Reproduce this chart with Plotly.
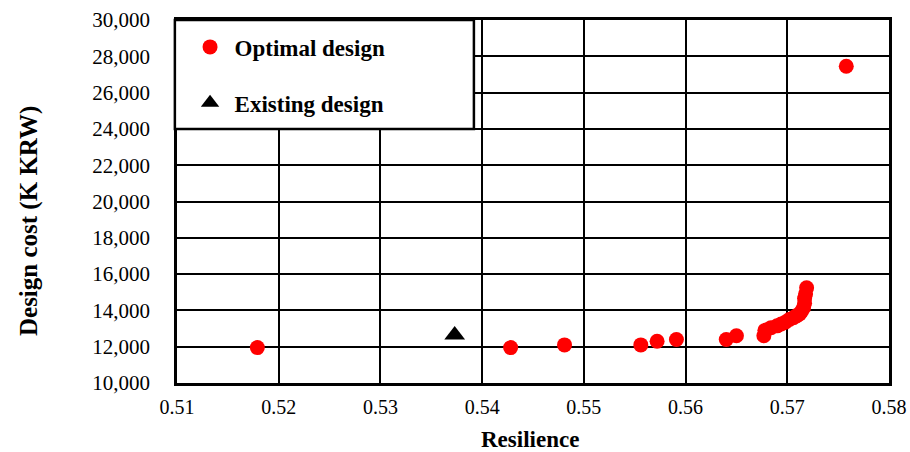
import plotly.graph_objects as go

# Optimal designs (resilience, design cost in K KRW)
opt_resilience = [0.5179, 0.5428, 0.5481, 0.5556, 0.5572, 0.5591, 0.5640, 0.5650,
                  0.5677, 0.5678, 0.5684, 0.5690, 0.5694, 0.5698, 0.5702, 0.5706,
                  0.5709, 0.5712, 0.5714, 0.5716, 0.5717, 0.5717, 0.5718, 0.5719,
                  0.5758]
opt_cost = [11950, 11950, 12100, 12100, 12300, 12400, 12400, 12600,
            12600, 12900, 13050, 13150, 13250, 13350, 13500, 13600,
            13700, 13800, 13950, 14150, 14400, 14650, 14900, 15250,
            27450]

# Existing design
exist_resilience = [0.5373]
exist_cost = [12650]

x_ticks = [0.51, 0.52, 0.53, 0.54, 0.55, 0.56, 0.57, 0.58]
y_ticks = list(range(10000, 30001, 2000))

serif = "Liberation Serif, Times New Roman, serif"

fig = go.Figure()
fig.add_trace(go.Scatter(
    x=opt_resilience, y=opt_cost, mode="markers", name="Optimal design",
    legendgroup="a",
    marker=dict(color="#ff0000", size=15, line=dict(width=0)),
))
fig.add_trace(go.Scatter(
    x=exist_resilience, y=exist_cost, mode="markers", name="Existing design",
    legendgroup="b",
    marker=dict(color="#000000", size=18, symbol="triangle-up", line=dict(width=0)),
))

# legend frame
fig.add_shape(type="rect", xref="paper", yref="paper",
              x0=-0.003, x1=0.417, y0=0.70, y1=1.0,
              fillcolor="white", line=dict(color="black", width=2.5), layer="above")

# axis titles (placed as annotations to match the original's positions)
fig.add_annotation(text="<b>Design cost (K KRW)</b>", xref="paper", yref="paper",
                   x=-0.208, y=0.446, xanchor="center", yanchor="middle",
                   textangle=-90, showarrow=False,
                   font=dict(family=serif, size=25, color="black"))
fig.add_annotation(text="<b>Resilience</b>", xref="paper", yref="paper",
                   x=0.496, y=-0.157, xanchor="center", yanchor="middle",
                   showarrow=False,
                   font=dict(family=serif, size=23, color="black"))

fig.update_layout(
    width=910, height=452,
    margin=dict(l=177, r=21, t=20, b=69),
    paper_bgcolor="white", plot_bgcolor="white",
    font=dict(family=serif, color="black", size=21),
    showlegend=True,
    legend=dict(x=0.012, y=0.985, xanchor="left", yanchor="top",
                bgcolor="rgba(0,0,0,0)", borderwidth=0,
                font=dict(family=serif, size=23, color="black", weight="bold"),
                tracegroupgap=23, itemwidth=39),
    xaxis=dict(range=[0.51, 0.58], tickvals=x_ticks, ticktext=[f"{v:.2f}" for v in x_ticks],
               showgrid=True, gridcolor="black", gridwidth=2, automargin=False,
               showline=True, linecolor="black", linewidth=2.5, mirror=True,
               ticks="", zeroline=False, ticklabelstandoff=4,
               ticklabeloverflow="allow",
               tickfont=dict(family=serif, size=20)),
    yaxis=dict(range=[10000, 30000], tickvals=y_ticks, ticktext=[f"{v:,}" for v in y_ticks],
               showgrid=True, gridcolor="black", gridwidth=2, automargin=False,
               showline=True, linecolor="black", linewidth=2.5, mirror=True,
               ticks="", zeroline=False, ticklabelstandoff=20,
               tickfont=dict(family=serif, size=21)),
)

fig.write_html("out.html",
               config={"displayModeBar": False},
               post_script="document.body.style.margin='0';document.body.style.overflow='hidden';")
